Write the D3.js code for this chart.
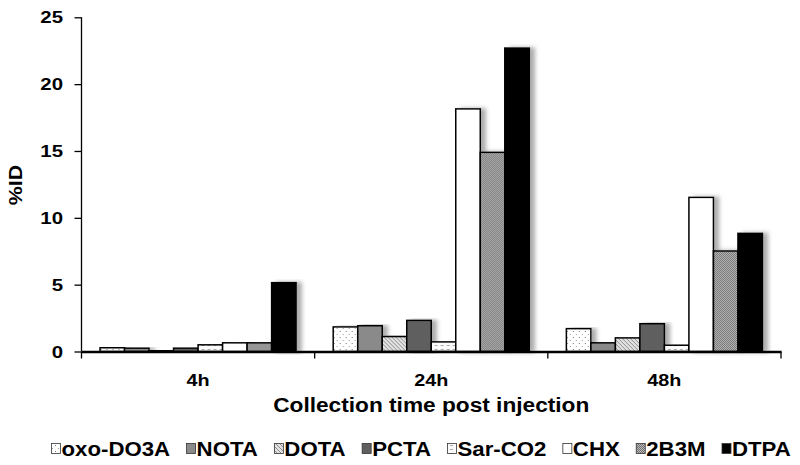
<!DOCTYPE html>
<html><head><meta charset="utf-8">
<script src="https://cdn.jsdelivr.net/npm/d3@7"></script>
<style>body{margin:0;background:#fff}svg{display:block}text{font-family:"Liberation Sans",Arial,sans-serif;font-weight:bold;fill:#000}</style>
</head><body><svg id="c" width="800" height="465"></svg>
<script>
const categories = ["4h", "24h", "48h"];
const seriesNames = ["oxo-DO3A", "NOTA", "DOTA", "PCTA", "Sar-CO2", "CHX", "2B3M", "DTPA"];
const oxoDO3A = [0.28, 1.84, 1.71];
const NOTA = [0.25, 1.93, 0.65];
const DOTA = [0.10, 1.12, 1.02];
const PCTA = [0.25, 2.33, 2.08];
const SarCO2 = [0.50, 0.72, 0.47];
const CHX = [0.65, 18.15, 11.53];
const B3M = [0.65, 14.9, 7.52];
const DTPA = [5.15, 22.7, 8.84];
const yTicks = [0, 5, 10, 15, 20, 25];
const seriesValues = [oxoDO3A, NOTA, DOTA, PCTA, SarCO2, CHX, B3M, DTPA];

const svg = d3.select("#c");
const defs = svg.append("defs");
// patterns
let p = defs.append("pattern").attr("id","pDots").attr("patternUnits","userSpaceOnUse").attr("width",6).attr("height",6);
p.append("rect").attr("width",6).attr("height",6).attr("fill","#fff");
p.append("rect").attr("x",1).attr("y",1).attr("width",1).attr("height",1).attr("fill","#777");
p.append("rect").attr("x",4).attr("y",4).attr("width",1).attr("height",1).attr("fill","#999");
p = defs.append("pattern").attr("id","pHatch").attr("patternUnits","userSpaceOnUse").attr("width",4).attr("height",4);
p.append("rect").attr("width",4).attr("height",4).attr("fill","#e2e2e2");
p.append("path").attr("d","M0,0L4,4M-1,3L1,5M3,-1L5,1").attr("stroke","#8c8c8c").attr("stroke-width",1);
p = defs.append("pattern").attr("id","pDash").attr("patternUnits","userSpaceOnUse").attr("width",6).attr("height",4);
p.append("rect").attr("width",6).attr("height",4).attr("fill","#fafafa");
p.append("path").attr("d","M0,1.5L3,1.5").attr("stroke","#aaa").attr("stroke-width",1);
p = defs.append("pattern").attr("id","pCheck").attr("patternUnits","userSpaceOnUse").attr("width",2).attr("height",2);
p.append("rect").attr("width",2).attr("height",2).attr("fill","#bdbdbd");
p.append("rect").attr("width",1).attr("height",1).attr("fill","#6e6e6e");
p.append("rect").attr("x",1).attr("y",1).attr("width",1).attr("height",1).attr("fill","#6e6e6e");
const f = defs.append("filter").attr("id","shadow").attr("x","-20%").attr("y","-5%").attr("width","160%").attr("height","110%");
f.append("feDropShadow").attr("dx",5).attr("dy",0).attr("stdDeviation",2).attr("flood-color","#777").attr("flood-opacity",0.6);

const fills = ["url(#pDots)", "#8a8a8a", "url(#pHatch)", "#5f5f5f", "url(#pDash)", "#ffffff", "url(#pCheck)", "#000000"];

const x0 = d3.scaleBand().domain(categories).range([81.5, 781]).paddingInner(0).paddingOuter(0);
const bw = x0.bandwidth();
const x1 = d3.scaleBand().domain(seriesNames).range([bw*0.0795, bw*(1-0.0795)]).padding(0);
const y = d3.scaleLinear().domain([0, 25]).range([351.5, 17.3]);

function stext(g, x, yy, str, size, sx, anchor) {
  return g.append("text").attr("transform", `translate(${x},${yy}) scale(${sx},1)`)
    .attr("font-size", size).attr("text-anchor", anchor || "start").text(str);
}

// bars
const groups = svg.append("g").selectAll("g").data(categories).join("g")
  .attr("transform", d => `translate(${x0(d)},0)`);
groups.selectAll("rect").data((c, ci) => seriesNames.map((s, si) => ({s, si, v: seriesValues[si][ci]})))
  .join("rect")
  .attr("x", d => x1(d.s)).attr("width", x1.bandwidth())
  .attr("y", d => y(d.v)).attr("height", d => y(0) - y(d.v))
  .attr("fill", d => fills[d.si]).attr("stroke", "#000").attr("stroke-width", 1.5)
  .attr("filter", "url(#shadow)");

// y axis
const yAxis = svg.append("g").attr("transform", "translate(81.5,0)")
  .call(d3.axisLeft(y).tickValues(yTicks).tickSize(7).tickFormat(""));
yAxis.select(".domain").attr("d", `M0,${y(25)}H0V${y(0)}`).attr("stroke","#000").attr("stroke-width",1.3);
yAxis.selectAll(".tick line").attr("stroke","#000").attr("stroke-width",1.3);
const yl = svg.append("g");
yTicks.forEach(t => stext(yl, 63, y(t) + 6, String(t), 17, 1.2, "end"));

// x axis
const xAxis = svg.append("g").attr("transform", `translate(0,${y(0)})`)
  .call(d3.axisBottom(x0).tickSize(0).tickFormat(""));
xAxis.select(".domain").attr("stroke","#000").attr("stroke-width",2.5);
const xt = svg.append("g");
xt.selectAll("line").data(categories.concat(["end"])).join("line")
  .attr("x1", (d,i) => i < 3 ? x0(d) : x0.range()[1]).attr("x2", (d,i) => i < 3 ? x0(d) : x0.range()[1])
  .attr("y1", y(0)).attr("y2", y(0) + 7).attr("stroke", "#000").attr("stroke-width", 1.3);
categories.forEach(c => stext(xt, x0(c) + bw/2, 385.5, c, 16.5, 1.2, "middle"));

// axis titles
stext(svg, (81.5+781)/2, 412, "Collection time post injection", 21, 1.08, "middle");
svg.append("text").attr("transform", "translate(21.5,185) rotate(-90) scale(1.22,1)")
  .attr("font-size", 17.5).attr("text-anchor", "middle").text("%ID");

// legend
const lg = svg.append("g");
let lx = 51.5;
seriesNames.forEach((s, i) => {
  lg.append("rect").attr("x", lx).attr("y", 443.5).attr("width", 9).attr("height", 10)
    .attr("fill", fills[i]).attr("stroke", "#333").attr("stroke-width", 0.8);
  const t = stext(lg, lx + 10, 456, s, 19.5, 1.14, "start");
  const w = t.node().getComputedTextLength() * 1.14;
  lx += 10 + w + 16.5;
});
</script></body></html>
